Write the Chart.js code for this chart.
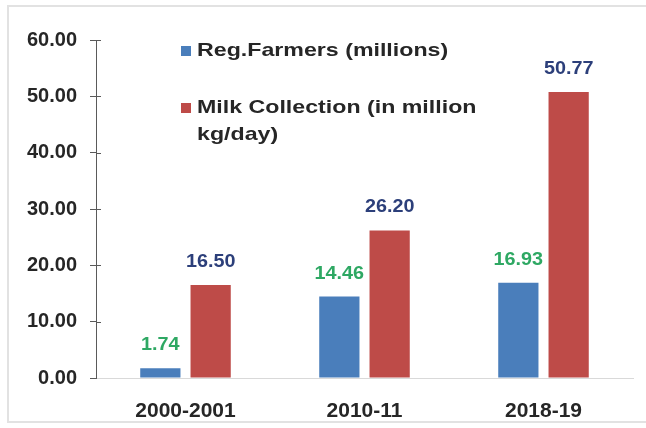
<!DOCTYPE html>
<html lang="en">
<head>
  <meta charset="UTF-8">
  <title>Registered Farmers and Milk Collection</title>
  <style>
    html, body { margin: 0; padding: 0; background: #fff; }
    #wrap { position: relative; width: 646px; height: 428px; }
    #frame {
      position: absolute; left: 7px; top: 5px; width: 645px; height: 418px;
      border: 2px solid #e2e2e2; box-sizing: border-box; pointer-events: none;
    }
  </style>
  <script src="https://cdn.jsdelivr.net/npm/chart.js"></script>
</head>
<body>
<div id="wrap">
  <canvas id="chart" width="646" height="428"></canvas>
  <div id="frame"></div>
</div>
<script>
  // chart data
  const years = ['2000-2001', '2010-11', '2018-19'];
  const farmers = [1.74, 14.46, 16.93];
  const milk = [16.50, 26.20, 50.77];
  const seriesNames = [['Reg.Farmers (millions)'], ['Milk Collection (in million', 'kg/day)']];
  const yTicks = [0, 10, 20, 30, 40, 50, 60];

  const barColors = ['#4a7ebb', '#be4b48'];
  const labelColors = ['#2ea863', '#2c3f7a'];
  const textColor = '#262626';
  const axisColor = '#5a5a5a';
  const fontFamily = '"Liberation Sans", Arial, sans-serif';

  // value labels above each bar (slightly widened like the original)
  const valueLabels = {
    id: 'valueLabels',
    afterDatasetsDraw(chart) {
      const ctx = chart.ctx;
      const sx = 1.1;
      ctx.save();
      ctx.font = 'bold 18px ' + fontFamily;
      ctx.textAlign = 'center';
      ctx.textBaseline = 'middle';
      chart.data.datasets.forEach((ds, i) => {
        const meta = chart.getDatasetMeta(i);
        ctx.fillStyle = labelColors[i];
        meta.data.forEach((bar, j) => {
          ctx.save();
          ctx.translate(bar.x, bar.y - 23);
          ctx.scale(sx, 1);
          ctx.fillText(ds.data[j].toFixed(2), 0, 0);
          ctx.restore();
        });
      });
      ctx.restore();
    }
  };

  // inner half of the y-axis tick marks
  const innerTicks = {
    id: 'innerTicks',
    afterDraw(chart) {
      const y = chart.scales.y;
      const ctx = chart.ctx;
      ctx.save();
      ctx.strokeStyle = axisColor;
      ctx.lineWidth = 1;
      y.ticks.forEach((t, i) => {
        if (t.value === 0) return;
        const py = Math.round(y.getPixelForTick(i)) + 0.5;
        ctx.beginPath();
        ctx.moveTo(y.right, py);
        ctx.lineTo(y.right + 5, py);
        ctx.stroke();
      });
      ctx.restore();
    }
  };

  // legend inside the plot, top left
  const innerLegend = {
    id: 'innerLegend',
    afterDraw(chart) {
      const ctx = chart.ctx;
      const sx = 1.22;
      ctx.save();
      ctx.font = 'bold 19px ' + fontFamily;
      ctx.textBaseline = 'middle';
      ctx.textAlign = 'left';
      const rows = [51, 108];
      seriesNames.forEach((lines, i) => {
        ctx.fillStyle = barColors[i];
        ctx.fillRect(181, rows[i] - 5, 10, 10);
        ctx.fillStyle = textColor;
        lines.forEach((line, k) => {
          ctx.save();
          ctx.translate(197, rows[i] + k * 27);
          ctx.scale(sx, 1);
          ctx.fillText(line, 0, 0);
          ctx.restore();
        });
      });
      ctx.restore();
    }
  };

  new Chart(document.getElementById('chart'), {
    type: 'bar',
    data: {
      labels: years,
      datasets: [
        { label: seriesNames[0].join(' '), data: farmers, backgroundColor: barColors[0] },
        { label: seriesNames[1].join(' '), data: milk, backgroundColor: barColors[1] }
      ]
    },
    options: {
      responsive: false,
      animation: false,
      layout: { padding: { top: 40, right: 13, left: 0, bottom: 0 } },
      plugins: {
        legend: { display: false },
        tooltip: { enabled: false }
      },
      datasets: {
        bar: { barPercentage: 0.8, categoryPercentage: 0.562 }
      },
      scales: {
        x: {
          grid: { display: false },
          border: { display: true, color: '#d9d9d9', width: 1 },
          ticks: {
            color: textColor,
            font: { family: fontFamily, size: 21, weight: 'bold' },
            padding: 13
          },
          afterFit(s) { s.height = 50; }
        },
        y: {
          min: 0,
          max: 60,
          afterBuildTicks(s) { s.ticks = yTicks.map(v => ({ value: v })); },
          grid: { display: true, drawOnChartArea: false, drawTicks: true, tickLength: 6, color: axisColor },
          border: { display: true, color: axisColor, width: 1 },
          ticks: {
            color: textColor,
            font: { family: fontFamily, size: 20, weight: 'bold' },
            padding: 13,
            callback: v => v.toFixed(2)
          },
          afterFit(s) { s.width = 96; }
        }
      }
    },
    plugins: [valueLabels, innerTicks, innerLegend]
  });
</script>
</body>
</html>
